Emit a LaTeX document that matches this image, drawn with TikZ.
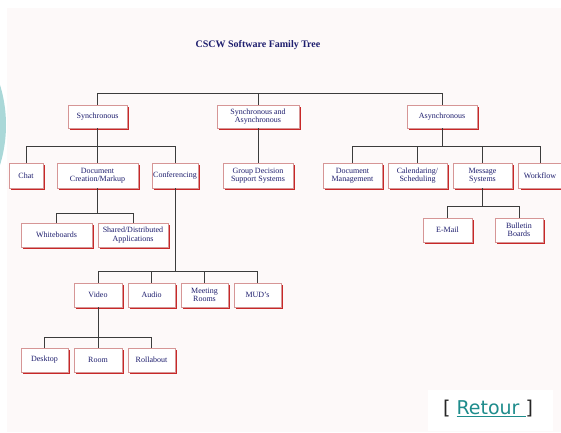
\documentclass[tikz,border=0pt]{standalone}
\usepackage{fontspec}
\setmainfont{Liberation Serif}
\newfontfamily\retourfont{DejaVu Sans}
\usetikzlibrary{shadows}
\definecolor{navy}{RGB}{30,30,110}
\definecolor{boxedge}{RGB}{214,150,150}
\definecolor{boxshadow}{RGB}{200,40,40}
\definecolor{paper}{RGB}{253,249,249}
\definecolor{tealdisc}{RGB}{170,216,216}
\definecolor{linkteal}{RGB}{30,140,140}
\definecolor{treegray}{RGB}{60,60,60}

\begin{document}
\begin{tikzpicture}[x=1pt,y=-1pt,
    famBox/.style={draw=boxedge, line width=0.6pt, fill=white,
        general shadow={fill=boxshadow, shadow xshift=2pt, shadow yshift=-2pt},
        minimum height=23pt, inner sep=1pt, align=center, text=navy,
        font=\fontsize{8}{8.5}\selectfont},
    treeLine/.style={treegray, line width=0.8pt}]
    \clip (0,0) rectangle (561,432);
    \fill[paper] (7,8) rectangle (561,432);
    \fill[tealdisc] (-130,125) circle [radius=136pt];

    \node[font=\bfseries\fontsize{10}{12}\selectfont, text=navy] (title) at (258,45) {CSCW Software Family Tree};

    % first level
    \node[famBox, minimum width=59pt] (sync) at (97.5,116.5) {Synchronous};
    \node[famBox, minimum width=82pt] (syncasync) at (258,116.5) {Synchronous and\\Asynchronous};
    \node[famBox, minimum width=70pt] (async) at (442,116.5) {Asynchronous};

    % second level
    \node[famBox, minimum width=34pt, minimum height=25pt] (chat) at (26,175.5) {Chat};
    \node[famBox, minimum width=81pt, minimum height=25pt] (doccreate) at (97.5,175.5) {Document\\Creation/Markup};
    \node[famBox, minimum width=46pt, minimum height=25pt] (conf) at (175,175.5) {Conferencing};
    \node[famBox, minimum width=70pt, minimum height=25pt] (gdss) at (258,175.5) {Group Decision\\Support Systems};
    \node[famBox, minimum width=59pt, minimum height=25pt] (docmgmt) at (352.5,175.5) {Document\\Management};
    \node[famBox, minimum width=59pt, minimum height=25pt] (cal) at (417.5,175.5) {Calendaring/\\Scheduling};
    \node[famBox, minimum width=59pt, minimum height=25pt] (msg) at (482.5,175.5) {Message\\Systems};
    \node[famBox, minimum width=43pt, minimum height=25pt] (workflow) at (540,175.5) {Workflow};

    % third level
    \node[famBox, minimum width=71pt, minimum height=24pt] (wb) at (56.5,235) {Whiteboards};
    \node[famBox, minimum width=70pt, minimum height=24pt] (shared) at (133,235) {Shared/Distributed\\Applications};
    \node[famBox, minimum width=49pt, minimum height=24pt] (email) at (447.5,230) {E-Mail};
    \node[famBox, minimum width=48pt, minimum height=24pt] (bb) at (519,230) {Bulletin\\Boards};

    % conferencing
    \node[famBox, minimum width=48pt, minimum height=24pt] (video) at (98,295) {Video};
    \node[famBox, minimum width=47pt, minimum height=24pt] (audio) at (151.5,295) {Audio};
    \node[famBox, minimum width=47pt, minimum height=24pt] (meeting) at (204.5,295) {Meeting\\Rooms};
    \node[famBox, minimum width=47pt, minimum height=24pt] (muds) at (257.5,295) {MUD's};

    % video
    \node[famBox, minimum width=47pt, minimum height=24pt] (desktop) at (44.5,360) {Desktop};
    \node[famBox, minimum width=48pt, minimum height=24pt] (room) at (98,360) {Room};
    \node[famBox, minimum width=47pt, minimum height=24pt] (rollabout) at (151.5,360) {Rollabout};

    \coordinate (topbus) at (0,93);
    \coordinate (syncbus) at (0,146);
    \coordinate (msgbus) at (0,206);
    \coordinate (docbus) at (0,213);
    \coordinate (confbus) at (0,271);
    \coordinate (videobus) at (0,337);

    \draw[treeLine] (sync.north) |- (topbus -| async.north) -- (async.north);
    \draw[treeLine] (syncasync.north) -- (syncasync.north |- topbus);
    \draw[treeLine] (syncasync.south) -- (gdss.north);

    \draw[treeLine] (sync.south) -- (sync.south |- syncbus);
    \draw[treeLine] (chat.north) |- (syncbus -| conf.north) -- (conf.north);
    \draw[treeLine] (doccreate.north) -- (doccreate.north |- syncbus);

    \draw[treeLine] (async.south) -- (async.south |- syncbus);
    \draw[treeLine] (docmgmt.north) |- (syncbus -| workflow.north) -- (workflow.north);
    \draw[treeLine] (cal.north) -- (cal.north |- syncbus);
    \draw[treeLine] (msg.north) -- (msg.north |- syncbus);

    \draw[treeLine] (msg.south) -- (msg.south |- msgbus);
    \draw[treeLine] (email.north) |- (msgbus -| bb.north) -- (bb.north);

    \draw[treeLine] (doccreate.south) -- (doccreate.south |- docbus);
    \draw[treeLine] (wb.north) |- (docbus -| shared.north) -- (shared.north);

    \draw[treeLine] (conf.south) -- (conf.south |- confbus);
    \draw[treeLine] (video.north) |- (confbus -| muds.north) -- (muds.north);
    \draw[treeLine] (audio.north) -- (audio.north |- confbus);
    \draw[treeLine] (meeting.north) -- (meeting.north |- confbus);

    \draw[treeLine] (video.south) -- (video.south |- videobus);
    \draw[treeLine] (desktop.north) |- (videobus -| rollabout.north) -- (rollabout.north);
    \draw[treeLine] (room.north) -- (room.north |- videobus);

    \fill[white] (428,390) rectangle (553,431);
    \node[font=\retourfont\fontsize{19}{22}\selectfont, text=black!85] (retour) at (488,409)
        {[ \textcolor{linkteal}{\underline{Retour\ }}]};
\end{tikzpicture}
\end{document}
